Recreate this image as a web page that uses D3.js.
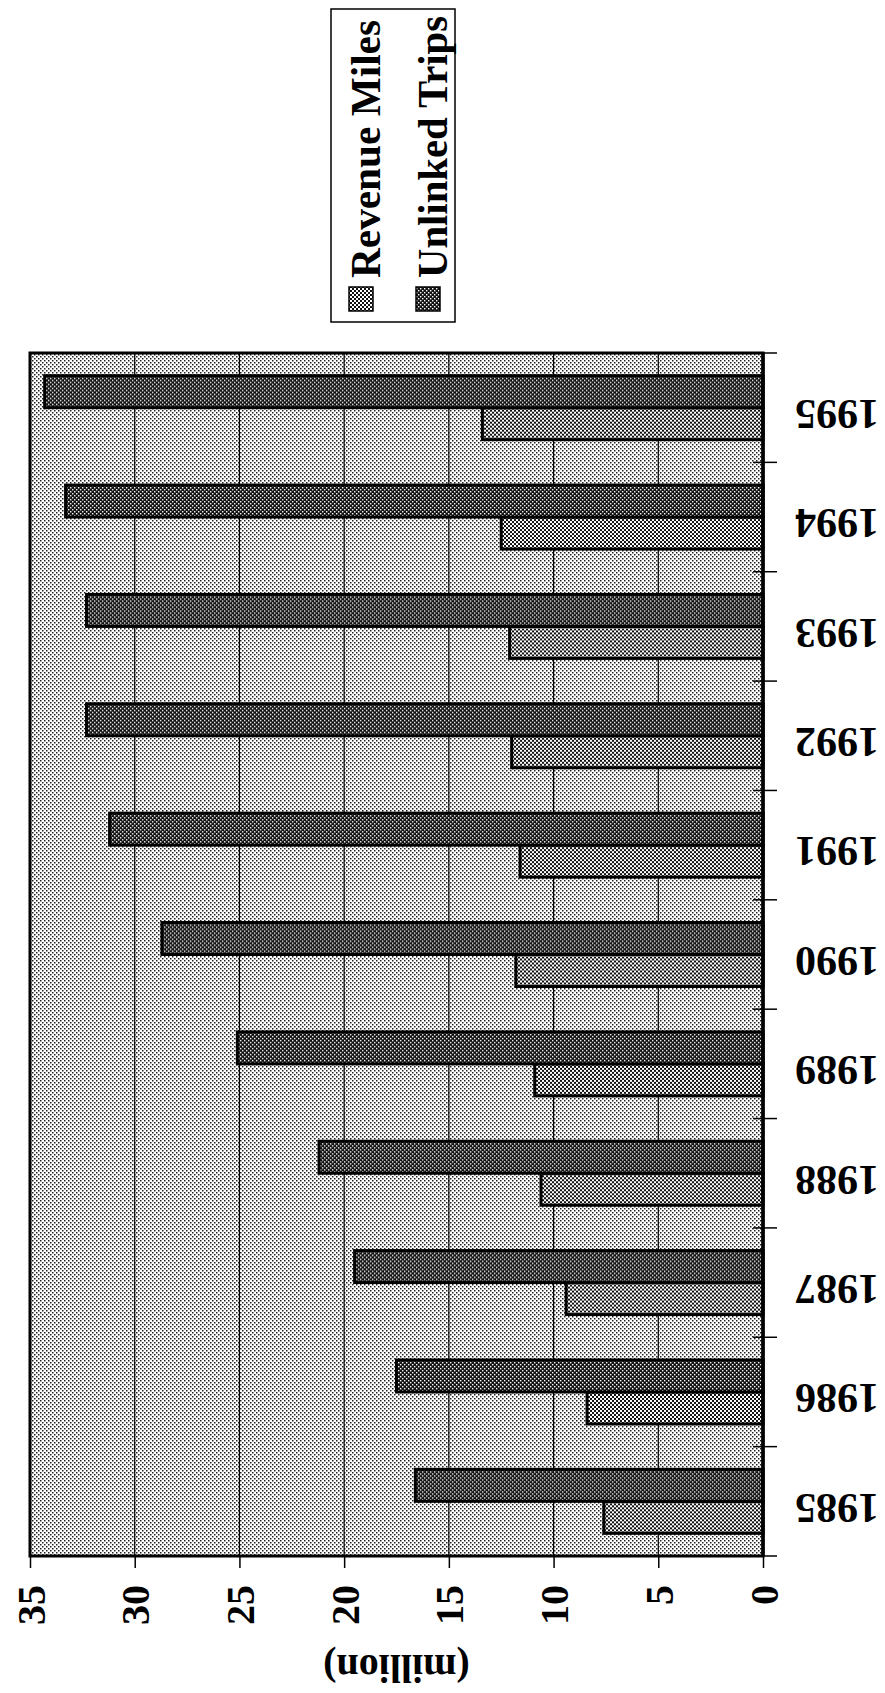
<!DOCTYPE html>
<html>
<head>
<meta charset="utf-8">
<script src="https://cdn.jsdelivr.net/npm/d3@7"></script>
<style>
  body { margin: 0; background: #fff; }
  svg { display: block; }
  text { font-family: "Liberation Serif", "Times New Roman", serif; font-weight: bold; fill: #000; }
</style>
</head>
<body>
<div id="chart"></div>
<script>
// --- DATA ---
const years = ["1985", "1986", "1987", "1988", "1989", "1990", "1991", "1992", "1993", "1994", "1995"];
const revenueMiles = [7.6, 8.4, 9.4, 10.6, 10.9, 11.8, 11.6, 12.0, 12.1, 12.5, 13.4];
const unlinkedTrips = [16.6, 17.5, 19.5, 21.2, 25.1, 28.7, 31.2, 32.3, 32.3, 33.3, 34.3];
const seriesNames = ["Revenue Miles", "Unlinked Trips"];
const valueTicks = [0, 5, 10, 15, 20, 25, 30, 35];
const axisTitle = "(million)";

// --- SETUP ---
const width = 885;
const height = 1693;
const plot = { left: 30, right: 763, top: 353, bottom: 1556 };

const svg = d3.select("#chart").append("svg")
    .attr("width", width)
    .attr("height", height);

// halftone fills, like the scanned print
const defs = svg.append("defs");
function halftone(id, bg, fg, size) {
    const p = defs.append("pattern")
        .attr("id", id)
        .attr("patternUnits", "userSpaceOnUse")
        .attr("width", 4).attr("height", 4);
    p.append("rect").attr("width", 4).attr("height", 4).attr("fill", bg);
    p.append("rect").attr("x", 0).attr("y", 0).attr("width", size).attr("height", size).attr("fill", fg);
    p.append("rect").attr("x", 2).attr("y", 2).attr("width", size).attr("height", size).attr("fill", fg);
}
halftone("bgDots", "#fff", "#222", 1.5);
halftone("rmFill", "#fff", "#111", 2);
halftone("utFill", "#111", "#fff", 1.4);
const fills = { "Revenue Miles": "url(#rmFill)", "Unlinked Trips": "url(#utFill)" };

// --- SCALES ---
const x = d3.scaleLinear().domain([0, 35]).range([plot.right, plot.left]);
const y0 = d3.scaleBand().domain(years)
    .range([plot.bottom, plot.top])
    .paddingInner(0.415).paddingOuter(0.2075);
const y1 = d3.scaleBand().domain(["Unlinked Trips", "Revenue Miles"])
    .range([0, y0.bandwidth()]);

const rows = years.map((yr, i) => ({
    year: yr,
    values: [
        { key: "Revenue Miles", value: revenueMiles[i] },
        { key: "Unlinked Trips", value: unlinkedTrips[i] }
    ]
}));

// --- PLOT AREA ---
svg.append("rect")
    .attr("x", plot.left).attr("y", plot.top)
    .attr("width", plot.right - plot.left).attr("height", plot.bottom - plot.top)
    .attr("fill", "url(#bgDots)");

// gridlines
svg.append("g").selectAll("line")
    .data(valueTicks.filter(v => v > 0 && v < 35))
    .join("line")
    .attr("x1", d => x(d)).attr("x2", d => x(d))
    .attr("y1", plot.top).attr("y2", plot.bottom)
    .attr("stroke", "#000").attr("stroke-width", 1.2);

// bars
svg.append("g").selectAll("g")
    .data(rows)
    .join("g")
    .attr("transform", d => `translate(0,${y0(d.year)})`)
    .selectAll("rect")
    .data(d => d.values)
    .join("rect")
    .attr("x", d => x(d.value))
    .attr("y", d => y1(d.key))
    .attr("width", d => x(0) - x(d.value))
    .attr("height", y1.bandwidth())
    .attr("fill", d => fills[d.key])
    .attr("stroke", "#000")
    .attr("stroke-width", 3);

// frame
svg.append("rect")
    .attr("x", plot.left).attr("y", plot.top)
    .attr("width", plot.right - plot.left).attr("height", plot.bottom - plot.top)
    .attr("fill", "none").attr("stroke", "#000").attr("stroke-width", 3);

// --- VALUE AXIS (bottom, labels turned) ---
const xAxis = svg.append("g")
    .attr("transform", `translate(0,${plot.bottom})`)
    .call(d3.axisBottom(x).tickValues(valueTicks).tickSize(12).tickSizeOuter(0));
xAxis.select(".domain").remove();
xAxis.selectAll(".tick line").attr("stroke", "#000").attr("stroke-width", 1.5);
xAxis.selectAll(".tick text")
    .attr("x", 0).attr("y", 0).attr("dy", "0.35em")
    .attr("transform", "translate(0,29) rotate(-90)")
    .attr("text-anchor", "end")
    .attr("font-size", 40)
    .attr("font-family", null);

svg.append("text")
    .attr("transform", `translate(${x(17.5)},${1669}) rotate(180)`)
    .attr("text-anchor", "middle")
    .attr("dy", "0.35em")
    .attr("font-size", 40)
    .text(axisTitle);

// --- CATEGORY AXIS (right) ---
const bounds = [plot.bottom].concat(years.map(yr => y0(yr) + y0.bandwidth() / 2 - y0.step() / 2));
svg.append("line")
    .attr("x1", plot.right).attr("x2", plot.right)
    .attr("y1", plot.top).attr("y2", plot.bottom)
    .attr("stroke", "#000").attr("stroke-width", 3.5);
svg.append("g").selectAll("line")
    .data(bounds)
    .join("line")
    .attr("x1", plot.right - 10).attr("x2", plot.right + 14)
    .attr("y1", d => d).attr("y2", d => d)
    .attr("stroke", "#000").attr("stroke-width", 1.5);

svg.append("g").selectAll("text")
    .data(years)
    .join("text")
    .attr("transform", d => `translate(837,${y0(d) + y0.bandwidth() / 2 + 7}) rotate(180)`)
    .attr("text-anchor", "middle")
    .attr("dy", "0.35em")
    .attr("font-size", 42)
    .text(d => d);

// --- LEGEND ---
const legend = svg.append("g");
legend.append("rect")
    .attr("x", 331).attr("y", 9)
    .attr("width", 124).attr("height", 313)
    .attr("fill", "#fff").attr("stroke", "#000").attr("stroke-width", 1.5);
const legX = { "Revenue Miles": 349, "Unlinked Trips": 416 };
const legLen = { "Revenue Miles": 258, "Unlinked Trips": 262 };
const items = legend.selectAll("g.item")
    .data(seriesNames)
    .join("g").attr("class", "item");
items.append("rect")
    .attr("x", d => legX[d]).attr("y", 287)
    .attr("width", 24).attr("height", 24)
    .attr("fill", d => fills[d])
    .attr("stroke", "#000").attr("stroke-width", 1.5);
items.append("text")
    .attr("transform", d => `translate(${legX[d] + 31},278) rotate(-90)`)
    .attr("font-size", 43)
    .attr("textLength", d => legLen[d])
    .attr("lengthAdjust", "spacingAndGlyphs")
    .text(d => d);
</script>
</body>
</html>
